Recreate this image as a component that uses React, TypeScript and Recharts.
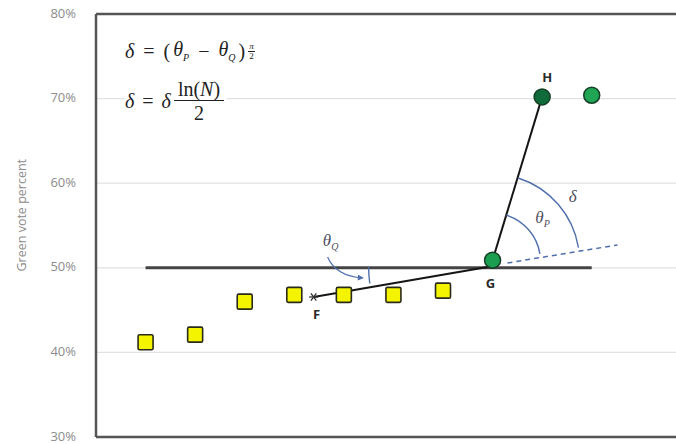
import React from 'react'
import {
  ComposedChart, Scatter, XAxis, YAxis, CartesianGrid,
  ReferenceLine, ReferenceDot,
} from 'recharts'

// y axis
const yTicks = [30, 40, 50, 60, 70, 80]

// yellow squares (earlier results)
const squareX = [1, 2, 3, 4, 5, 6, 7]
const squareY = [41.2, 42.1, 46.0, 46.8, 46.8, 46.8, 47.3]

// green circles
const circleX = [8, 9, 10]
const circleY = [50.9, 70.2, 70.4]
const circleNames = ['G', 'H', 'next']

// construction points
const pointF = { x: 4.39, y: 46.55 }
const pointMeet = { x: 7.9, y: 50.1 }
const dashEnd = { x: 10.52, y: 52.7 }
const dashStart = { x: 8.3, y: 50.57 }
const arcCenter = { x: 7.98, y: 50.7 }

const squares = squareX.map((x, i) => ({ x, y: squareY[i] }))
const circles = circleX.map((x, i) => ({ x, y: circleY[i], name: circleNames[i] }))

const circleColor: Record<string, string> = { G: '#1c9e50', H: '#0f6b3a', next: '#1fa553' }
const arcBlue = '#4f6fae'
const labelInk = '#4d5060'
const deg = Math.PI / 180

function SquareMark({ cx, cy }: any) {
  return <rect x={cx - 7.5} y={cy - 7.5} width={15} height={15} rx={1.5}
    fill="#f4f400" stroke="#2a2a1a" strokeWidth={1.6} />
}

function CircleMark({ cx, cy, payload }: any) {
  return <circle cx={cx} cy={cy} r={8} fill={circleColor[payload?.name] || '#1c9e50'}
    stroke="#163f26" strokeWidth={1.5} />
}

function arcPath(cx: number, cy: number, r: number, a0: number, a1: number) {
  const x0 = cx + r * Math.cos(a0 * deg), y0 = cy - r * Math.sin(a0 * deg)
  const x1 = cx + r * Math.cos(a1 * deg), y1 = cy - r * Math.sin(a1 * deg)
  return `M${x0},${y0} A${r},${r} 0 0 0 ${x1},${y1}`
}

function Theta({ x, y, sub }: { x: number; y: number; sub: string }) {
  return (
    <text x={x} y={y} fill={labelInk} fontFamily='"Liberation Serif", serif'
      fontStyle="italic" fontSize={17} textAnchor="middle">
      θ<tspan fontSize={10} dy={4}>{sub}</tspan>
    </text>
  )
}

function AnglesAtG({ cx, cy }: any) {
  return (
    <g>
      <path d={arcPath(cx, cy, 49, 9.3, 72.4)} fill="none" stroke={arcBlue} strokeWidth={1.4} />
      <path d={arcPath(cx, cy, 88, 9.3, 72.4)} fill="none" stroke={arcBlue} strokeWidth={1.4} />
      <Theta x={cx + 51} y={cy - 39} sub="P" />
      <text x={cx + 81} y={cy - 60} fill={labelInk} fontFamily='"Liberation Serif", serif'
        fontStyle="italic" fontSize={17} textAnchor="middle">δ</text>
    </g>
  )
}

function AngleQ({ cx, cy }: any) {
  const r = 119
  const x0 = cx - r, y0 = cy
  const x1 = cx - r * Math.cos(8 * deg), y1 = cy + r * Math.sin(8 * deg)
  return (
    <g>
      <path d={`M${x0},${y0} A${r},${r} 0 0 0 ${x1},${y1}`} fill="none" stroke={arcBlue} strokeWidth={1.4} />
      <path d={`M${cx - 160},${cy - 10} Q${cx - 152},${cy + 9} ${cx - 125},${cy + 11}`}
        fill="none" stroke={arcBlue} strokeWidth={1.2} markerEnd="url(#arrowBlue)" />
      <Theta x={cx - 157} y={cy - 21} sub="Q" />
    </g>
  )
}

function Star({ cx, cy }: any) {
  const s = 4.5
  return (
    <g stroke="#333" strokeWidth={1.3}>
      <line x1={cx - s} y1={cy} x2={cx + s} y2={cy} />
      <line x1={cx - s * 0.6} y1={cy - s * 0.8} x2={cx + s * 0.6} y2={cy + s * 0.8} />
      <line x1={cx - s * 0.6} y1={cy + s * 0.8} x2={cx + s * 0.6} y2={cy - s * 0.8} />
    </g>
  )
}

const letter = (txt: string, dx: number, dy: number) => ({ cx, cy }: any) => (
  <text x={cx + dx} y={cy + dy} textAnchor="middle" fontFamily="Open Sans, sans-serif"
    fontWeight={700} fontSize={13} fill="#2a2a2a">{txt}</text>
)

const serif = '"Liberation Serif", "DejaVu Serif", serif'

function Formulas() {
  const up = { fontStyle: 'normal' as const }
  const box = {
    position: 'absolute' as const, background: '#fff', fontFamily: serif,
    fontStyle: 'italic' as const, fontSize: 20, color: '#222', display: 'flex',
    alignItems: 'center', whiteSpace: 'nowrap' as const, lineHeight: 1,
  }
  return (
    <>
      <div style={{ ...box, left: 125, top: 39 }}>
        <span>δ</span><span style={{ ...up, margin: '0 9px' }}>=</span>
        <span style={up}>(</span><span style={{ marginLeft: 3 }}>θ<sub style={{ fontSize: 10 }}>P</sub></span>
        <span style={{ ...up, margin: '0 9px' }}>−</span>
        <span>θ<sub style={{ fontSize: 10 }}>Q</sub></span><span style={{ ...up, marginLeft: 3 }}>)</span>
        <span style={{ display: 'inline-flex', flexDirection: 'column', alignItems: 'center',
          fontSize: 9, marginLeft: 3, lineHeight: 1 }}>
          <span>π</span>
          <span style={{ borderTop: '1px solid #222', ...up, padding: '0 1px' }}>2</span>
        </span>
      </div>
      <div style={{ ...box, left: 125, top: 79, paddingRight: 3 }}>
        <span>δ</span><span style={{ ...up, margin: '0 8px' }}>=</span>
        <span style={{ marginRight: 3 }}>δ</span>
        <span style={{ display: 'inline-flex', flexDirection: 'column', alignItems: 'center' }}>
          <span style={{ padding: '0 4px 1px' }}><span style={up}>ln(</span>N<span style={up}>)</span></span>
          <span style={{ borderTop: '1.2px solid #222', ...up, width: '100%', textAlign: 'center', paddingTop: 2 }}>2</span>
        </span>
      </div>
    </>
  )
}

export default function App() {
  return (
    <div style={{ position: 'absolute', left: 0, top: 0, width: 676, height: 444,
      background: '#fff', fontFamily: 'Open Sans, sans-serif' }}>
      <ComposedChart width={676} height={444} margin={{ top: 14, right: 0, bottom: 7, left: 10 }}>
        <defs>
          <marker id="arrowBlue" viewBox="0 0 10 10" refX="8" refY="5" markerWidth="7" markerHeight="6"
            orient="auto" markerUnits="userSpaceOnUse">
            <path d="M0,0 L10,5 L0,10 z" fill={arcBlue} />
          </marker>
        </defs>
        <CartesianGrid vertical={false} stroke="#e2e2e2" strokeWidth={1.2} />
        <XAxis type="number" dataKey="x" domain={[0, 11.7]} hide />
        <YAxis type="number" dataKey="y" domain={[30, 80]} ticks={yTicks} width={86} interval={0}
          axisLine={false} tickLine={false} tickSize={0} tickMargin={20}
          tick={{ fill: '#8c8c8c', fontSize: 13, dy: -1 }} tickFormatter={(v) => `${v}%`}
          label={{ value: 'Green vote percent', angle: -90, position: 'insideLeft', offset: 12,
            fill: '#8c8c8c', fontSize: 12.5, dy: 46 }} />

        <ReferenceLine x={0} stroke="#555" strokeWidth={2.5} />
        <ReferenceLine y={80} stroke="#555" strokeWidth={2.5} />
        <ReferenceLine y={30} stroke="#555" strokeWidth={2.5} />

        <ReferenceLine segment={[{ x: squareX[0], y: 50 }, { x: circleX[2], y: 50 }]}
          stroke="#444" strokeWidth={3} />
        <ReferenceLine segment={[dashStart, dashEnd]} stroke={arcBlue} strokeWidth={1.5}
          strokeDasharray="5 4" />
        <ReferenceLine segment={[pointF, pointMeet]} stroke="#151515" strokeWidth={2} />
        <ReferenceLine segment={[{ x: circleX[0], y: circleY[0] }, { x: circleX[1], y: circleY[1] }]}
          stroke="#151515" strokeWidth={2} />

        <ReferenceDot x={arcCenter.x} y={arcCenter.y} shape={AnglesAtG} />
        <ReferenceDot x={pointMeet.x} y={pointMeet.y} shape={AngleQ} />

        <Scatter data={squares} dataKey="y" shape={SquareMark} isAnimationActive={false} />
        <Scatter data={circles} dataKey="y" shape={CircleMark} isAnimationActive={false} />

        <ReferenceDot x={pointF.x} y={pointF.y} shape={Star} />
        <ReferenceDot x={pointF.x} y={pointF.y} shape={letter('F', 3, 22)} />
        <ReferenceDot x={circleX[0]} y={circleY[0]} shape={letter('G', -2, 28)} />
        <ReferenceDot x={circleX[1]} y={circleY[1]} shape={letter('H', 5, -15)} />
      </ComposedChart>
      <Formulas />
    </div>
  )
}
